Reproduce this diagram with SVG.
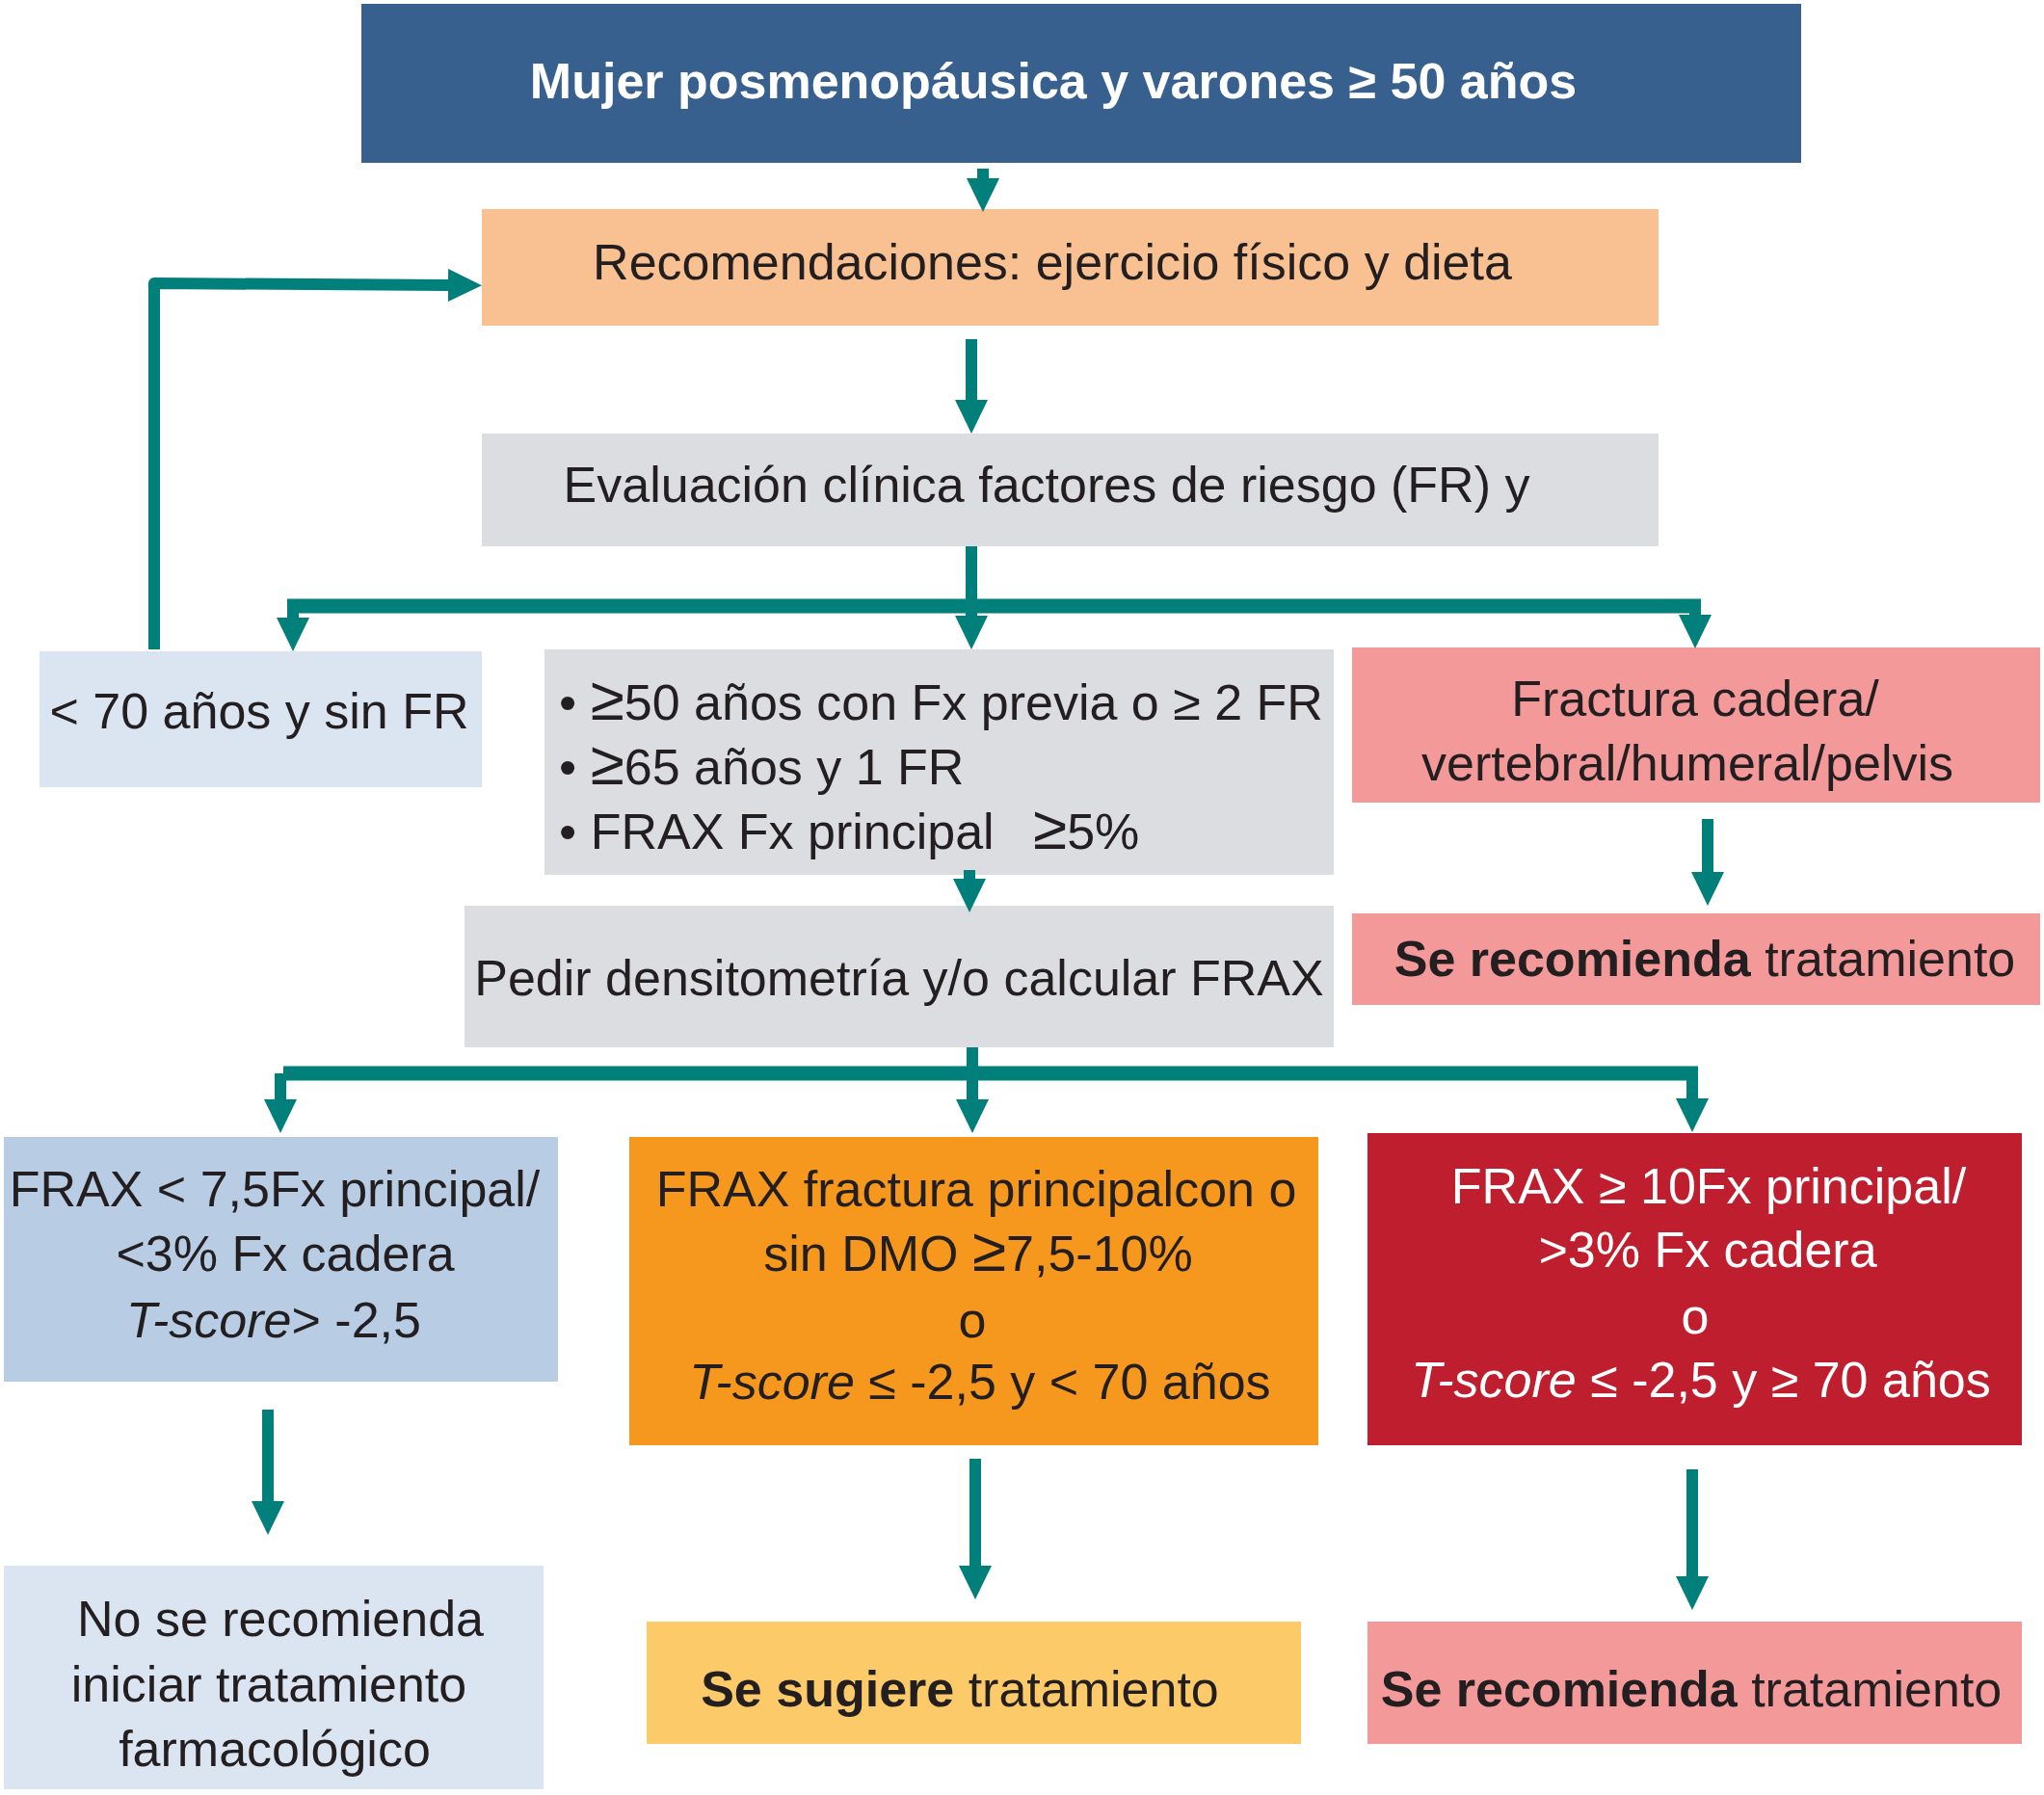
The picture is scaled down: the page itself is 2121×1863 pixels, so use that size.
<svg xmlns="http://www.w3.org/2000/svg" width="2121" height="1863" viewBox="0 0 2121 1863">
<style>
.t{font-family:"Liberation Sans",Arial,sans-serif;font-size:52px;fill:#231f20}
.w{fill:#ffffff}
.c{text-anchor:middle}
.b{font-weight:bold}
.i{font-style:italic}
.g{font-size:64px}
.con{fill:none;stroke:#007f7b;stroke-width:12;stroke-linejoin:round}
.bar{fill:none;stroke:#007f7b;stroke-width:15}
</style>
<defs>
<marker id="ah" markerUnits="userSpaceOnUse" markerWidth="36" markerHeight="36" viewBox="0 0 36 36" refX="1" refY="17" orient="auto">
<path d="M0,0 L35,17 L0,34 Z" fill="#007f7b"/>
</marker>
</defs>
<rect width="2121" height="1863" fill="#ffffff"/>

<g id="n_title">
<rect x="375" y="4" width="1494" height="165" fill="#37608f"/>
<text class="t w b c" x="1093" y="102">Mujer posmenopáusica y varones ≥ 50 años</text>
</g>
<g id="n_recom">
<rect x="500" y="217" width="1221" height="121" fill="#f9c191"/>
<text class="t c" x="1092" y="290">Recomendaciones: ejercicio físico y dieta</text>
</g>
<g id="n_eval">
<rect x="500" y="450" width="1221" height="117" fill="#dcdde0"/>
<text class="t c" x="1086" y="521">Evaluación clínica factores de riesgo (FR) y</text>
</g>
<g id="n_menor70">
<rect x="41" y="676" width="459" height="141" fill="#dbe5f1"/>
<text class="t c" x="269" y="756">&lt; 70 años y sin FR</text>
</g>
<g id="n_criterios">
<rect x="565" y="674" width="819" height="234" fill="#dcdde0"/>
<text class="t" x="580" y="747">• <tspan class="g">≥</tspan>50 años con Fx previa o ≥ 2 FR</text>
<text class="t" x="580" y="814">• <tspan class="g">≥</tspan>65 años y 1 FR</text>
<text class="t" x="580" y="881">• FRAX Fx principal<tspan x="1072" class="g">≥</tspan>5%</text>
</g>
<g id="n_fractura">
<rect x="1403" y="672" width="714" height="161" fill="#f4999a"/>
<text class="t c" x="1759" y="743">Fractura cadera/</text>
<text class="t c" x="1751" y="810">vertebral/humeral/pelvis</text>
</g>
<g id="n_serec1">
<rect x="1403" y="948" width="714" height="95" fill="#f4999a"/>
<text class="t c" x="1769" y="1013"><tspan class="b">Se recomienda</tspan> tratamiento</text>
</g>
<g id="n_pedir">
<rect x="482" y="940" width="902" height="147" fill="#dcdde0"/>
<text class="t c" x="933" y="1033">Pedir densitometría y/o calcular FRAX</text>
</g>
<g id="n_frax_bajo">
<rect x="4" y="1180" width="575" height="254" fill="#b8cce4"/>
<text class="t c" x="285" y="1252">FRAX &lt; 7,5Fx principal/</text>
<text class="t c" x="296" y="1319">&lt;3% Fx cadera</text>
<text class="t c" x="284" y="1388"><tspan class="i">T-score</tspan>&gt; -2,5</text>
</g>
<g id="n_frax_medio">
<rect x="653" y="1180" width="715" height="320" fill="#f7981e"/>
<text class="t c" x="1013" y="1252">FRAX fractura principalcon o</text>
<text class="t c" x="1015" y="1319">sin DMO <tspan class="g">≥</tspan>7,5-10%</text>
<text class="t c" x="1009" y="1388">o</text>
<text class="t c" x="1017" y="1452"><tspan class="i">T-score</tspan> ≤ -2,5 y &lt; 70 años</text>
</g>
<g id="n_frax_alto">
<rect x="1419" y="1176" width="679" height="324" fill="#be1e2d"/>
<text class="t w c" x="1773" y="1249">FRAX ≥ 10Fx principal/</text>
<text class="t w c" x="1772" y="1315">&gt;3% Fx cadera</text>
<text class="t w c" x="1759" y="1384">o</text>
<text class="t w c" x="1765" y="1450"><tspan class="i">T-score</tspan> ≤ -2,5 y ≥ 70 años</text>
</g>
<g id="n_norec">
<rect x="4" y="1625" width="560" height="232" fill="#dbe5f1"/>
<text class="t c" x="291" y="1698">No se recomienda</text>
<text class="t c" x="279" y="1766">iniciar tratamiento</text>
<text class="t c" x="285" y="1833">farmacológico</text>
</g>
<g id="n_sugiere">
<rect x="671" y="1683" width="679" height="127" fill="#fdca69"/>
<text class="t c" x="996" y="1771"><tspan class="b">Se sugiere</tspan> tratamiento</text>
</g>
<g id="n_serec2">
<rect x="1419" y="1683" width="679" height="127" fill="#f4999a"/>
<text class="t c" x="1755" y="1771"><tspan class="b">Se recomienda</tspan> tratamiento</text>
</g>

<g id="connectors">
<path class="con" d="M1020,175 V186" marker-end="url(#ah)"/>
<path class="con" d="M1008,352 V416" marker-end="url(#ah)"/>
<path class="con" d="M160,674 V294 L466,296" marker-end="url(#ah)"/>
<path class="con" d="M1008,567 V629"/>
<path class="bar" d="M298,629 H1765"/>
<path class="con" d="M304,629 V642" marker-end="url(#ah)"/>
<path class="con" d="M1008,629 V640" marker-end="url(#ah)"/>
<path class="con" d="M1759,629 V639" marker-end="url(#ah)"/>
<path class="con" d="M1772,850 V906" marker-end="url(#ah)"/>
<path class="con" d="M1006,903 V913" marker-end="url(#ah)"/>
<path class="con" d="M1009,1087 V1114"/>
<path class="bar" d="M294,1114 H1762"/>
<path class="con" d="M291,1114 V1142" marker-end="url(#ah)"/>
<path class="con" d="M1009,1114 V1142" marker-end="url(#ah)"/>
<path class="con" d="M1756,1114 V1141" marker-end="url(#ah)"/>
<path class="con" d="M278,1463 V1559" marker-end="url(#ah)"/>
<path class="con" d="M1012,1514 V1626" marker-end="url(#ah)"/>
<path class="con" d="M1756,1525 V1637" marker-end="url(#ah)"/>
</g>
</svg>
